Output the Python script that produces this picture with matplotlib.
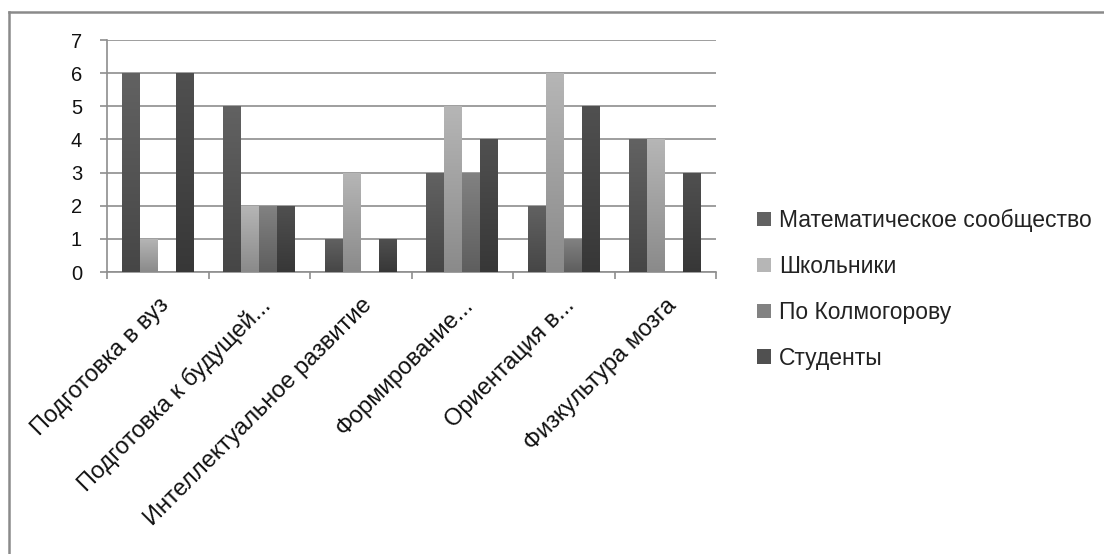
import numpy as np
import matplotlib.pyplot as plt
from matplotlib.colors import LinearSegmentedColormap
from matplotlib.patches import Patch
from matplotlib.lines import Line2D

plt.rcParams['font.family'] = ['Liberation Sans', 'DejaVu Sans']

categories = ["Подготовка в вуз", "Подготовка к будущей...", "Интеллектуальное развитие",
              "Формирование...", "Ориентация в...", "Физкультура мозга"]
series = ["Математическое сообщество", "Школьники", "По Колмогорову", "Студенты"]
math_comm = [6, 5, 1, 3, 2, 4]
pupils = [1, 2, 3, 5, 6, 4]
kolmogorov = [0, 2, 0, 3, 1, 0]
students = [6, 2, 1, 4, 5, 3]

# (top, bottom) shades for the vertical gradient of each series
shades = [("#626262", "#464646"), ("#b6b6b6", "#8a8a8a"),
          ("#828282", "#5e5e5e"), ("#505050", "#373737")]
grid_col = "#8e8e8e"

fig = plt.figure(figsize=(11.04, 5.54), dpi=100)
ax = fig.add_axes([107 / 1104, 1 - 272 / 554, 609 / 1104, 232 / 554])

x = np.arange(len(categories))
w = 0.177
grad = np.linspace(1, 0, 256).reshape(-1, 1)
for i, (name, vals) in enumerate(zip(series, [math_comm, pupils, kolmogorov, students])):
    bars = ax.bar(x + (i - 1.5) * w, vals, w, color=shades[i][0], linewidth=0, zorder=3)
    cmap = LinearSegmentedColormap.from_list(name, [shades[i][1], shades[i][0]])
    for b in bars:
        if b.get_height() == 0:
            continue
        bx, by = b.get_x(), b.get_y()
        im = ax.imshow(grad, cmap=cmap, aspect="auto", zorder=4,
                       extent=[bx, bx + b.get_width(), by, by + b.get_height()])
        im.set_clip_path(b)

ax.set_xlim(-0.5, len(categories) - 0.5)
ax.set_ylim(0, 7)
ax.set_yticks(range(8))
ax.yaxis.grid(True, color=grid_col, linewidth=1.2, zorder=0)
ax.set_axisbelow(True)

ax.set_xticks(x)
ax.set_xticklabels(categories, rotation=45, ha="right", rotation_mode="anchor",
                   fontsize=17, color="#111111")
ax.set_xticks(np.arange(-0.5, len(categories)), minor=True)
ax.tick_params(axis="x", which="major", length=0, pad=16)
ax.tick_params(axis="x", which="minor", length=5, width=1.2, color=grid_col, direction="out")
ax.tick_params(axis="y", length=5, width=1.2, color=grid_col, labelsize=14.5,
               labelcolor="#111111", pad=13)

for s in ["top", "right"]:
    ax.spines[s].set_visible(False)
for s in ["left", "bottom"]:
    ax.spines[s].set_color(grid_col)
    ax.spines[s].set_linewidth(1.2)

handles = [Patch(facecolor=c[0], edgecolor="none") for c in shades]
fig.legend(handles, series, loc="upper left", bbox_to_anchor=(757 / 1104, 1 - 209 / 554),
           frameon=False, fontsize=16.5, handlelength=0.61, handleheight=0.61,
           handletextpad=0.35, labelspacing=1.0, borderpad=0, borderaxespad=0,
           labelcolor="#222222")

# outer chart frame
fx, fy = 9 / 1104, 1 - 12 / 554
fig.add_artist(Line2D([fx, fx], [0, fy], transform=fig.transFigure, color="#8a8a8a", lw=1.8))
fig.add_artist(Line2D([fx, 1], [fy, fy], transform=fig.transFigure, color="#8a8a8a", lw=1.8))

fig.savefig("out.png", dpi=100, facecolor="white")
